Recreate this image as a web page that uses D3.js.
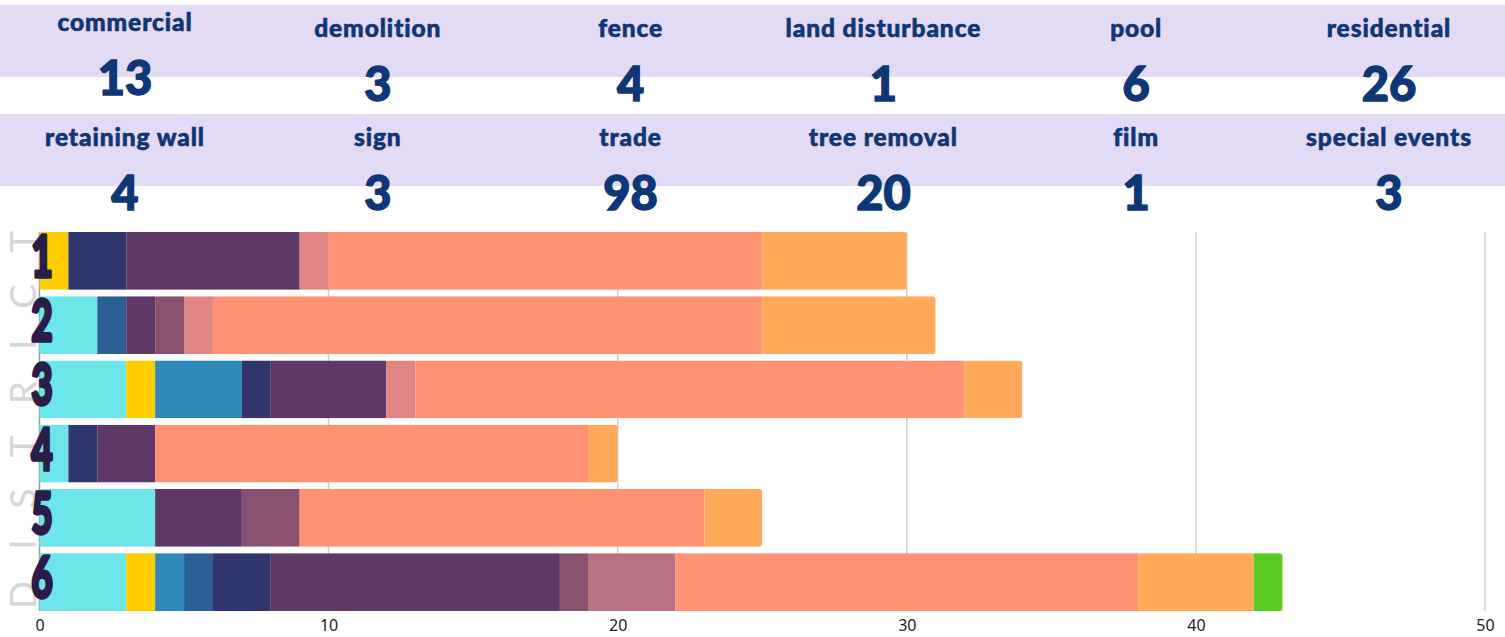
<!DOCTYPE html>
<html>
<head>
<meta charset="utf-8">
<script src="https://cdn.jsdelivr.net/npm/d3@7"></script>
<style>
  body { margin: 0; background: #fff; }
  svg { display: block; }
</style>
</head>
<body>
<div id="chart"></div>
<script>
// header tiles
const headerTop = ["commercial", "demolition", "fence", "land disturbance", "pool", "residential"];
const headerTopValues = [13, 3, 4, 1, 6, 26];
const headerBottom = ["retaining wall", "sign", "trade", "tree removal", "film", "special events"];
const headerBottomValues = [4, 3, 98, 20, 1, 3];

// stacked bars, one value per district
const districts = ["1", "2", "3", "4", "5", "6"];
const seriesNames = ["commercial", "demolition", "fence", "land disturbance", "pool", "residential",
  "retaining wall", "sign", "special events", "trade", "tree removal", "film"];
const commercial      = [0, 2, 3, 1, 4, 3];
const demolition      = [1, 0, 1, 0, 0, 1];
const fence           = [0, 0, 3, 0, 0, 1];
const landDisturbance = [0, 1, 0, 0, 0, 1];
const pool            = [2, 0, 1, 1, 0, 2];
const residential     = [6, 1, 4, 2, 3, 10];
const retainingWall   = [0, 1, 0, 0, 2, 1];
const sign            = [0, 0, 0, 0, 0, 3];
const specialEvents   = [1, 1, 1, 0, 0, 0];
const trade           = [15, 19, 19, 15, 14, 16];
const treeRemoval     = [5, 6, 2, 1, 2, 4];
const film            = [0, 0, 0, 0, 0, 1];
const xTicks = [0, 10, 20, 30, 40, 50];

const seriesValues = [commercial, demolition, fence, landDisturbance, pool, residential,
  retainingWall, sign, specialEvents, trade, treeRemoval, film];
const colors = ["#6de6e9", "#ffce00", "#2e8ab8", "#2d5f96", "#30356c", "#5e3866",
  "#895270", "#b87383", "#e08484", "#ff9273", "#ffa95b", "#5bcc22"];

const width = 1505, height = 637;

const svg = d3.select('#chart').append('svg')
  .attr('width', width)
  .attr('height', height);

// ---- header ----
const headerFont = "'Lato', 'Open Sans', sans-serif";
const textBlue = "#0f3676";
const colX = d3.scalePoint().domain(d3.range(6)).range([125, 1389]);

[{ y: 5, names: headerTop, vals: headerTopValues },
 { y: 114, names: headerBottom, vals: headerBottomValues }].forEach((row, ri) => {
  svg.append('rect')
    .attr('x', 0).attr('y', row.y)
    .attr('width', width).attr('height', 72)
    .attr('fill', '#e3daf3');

  const g = svg.append('g');
  row.names.forEach((name, i) => {
    // the first tile of the top row sits a little higher
    const lift = (ri === 0 && i === 0) ? -6 : 0;
    g.append('text')
      .attr('x', colX(i)).attr('y', row.y + 32 + lift)
      .attr('text-anchor', 'middle')
      .attr('font-family', headerFont)
      .attr('font-weight', 900)
      .attr('font-size', 24.5)
      .attr('letter-spacing', 0.9)
      .attr('fill', textBlue)
      .attr('stroke', textBlue)
      .attr('stroke-width', 0.6)
      .text(name);
    g.append('text')
      .attr('x', colX(i)).attr('y', row.y + 96 + lift)
      .attr('text-anchor', 'middle')
      .attr('font-family', headerFont)
      .attr('font-weight', 900)
      .attr('font-size', 47)
      .attr('fill', textBlue)
      .attr('stroke', textBlue)
      .attr('stroke-width', 1.4)
      .text(row.vals[i]);
  });
});

// ---- bar chart ----
const x = d3.scaleLinear().domain([0, 50]).range([39.5, 1485]);
const y = d3.scaleBand().domain(districts).range([232, 611]).paddingInner(0.1).paddingOuter(0);

// vertical DISTRICT label in the background
svg.append('text')
  .attr('transform', `translate(36, 609) rotate(-90)`)
  .attr('font-family', "'Lato', sans-serif")
  .attr('font-weight', 400)
  .attr('font-size', 37)
  .attr('fill', '#d6d4dc')
  .attr('textLength', 378)
  .attr('lengthAdjust', 'spacing')
  .text('DISTRICT');

// grid
svg.append('g')
  .selectAll('line')
  .data(xTicks)
  .join('line')
  .attr('x1', d => x(d)).attr('x2', d => x(d))
  .attr('y1', 232).attr('y2', 611)
  .attr('stroke', d => d === 0 ? '#9a9a9a' : '#d0d0d0')
  .attr('stroke-width', 1.5);

// stack
const table = districts.map((d, i) => {
  const row = { district: d };
  seriesNames.forEach((s, j) => { row[s] = seriesValues[j][i]; });
  return row;
});
const stacked = d3.stack().keys(seriesNames)(table);

const defs = svg.append('defs');
table.forEach((row, i) => {
  const total = d3.sum(seriesNames, s => row[s]);
  defs.append('clipPath').attr('id', 'clip' + i)
    .append('rect')
    .attr('x', x(0) - 5).attr('y', y(row.district))
    .attr('width', x(total) - x(0) + 5).attr('height', y.bandwidth())
    .attr('rx', 3.5);
});

const bars = svg.append('g');
stacked.forEach((layer, j) => {
  bars.append('g')
    .attr('fill', colors[j])
    .selectAll('rect')
    .data(layer.filter(d => d[1] > d[0]))
    .join('rect')
    .attr('clip-path', d => `url(#clip${districts.indexOf(d.data.district)})`)
    .attr('x', d => x(d[0]))
    .attr('y', d => y(d.data.district))
    .attr('width', d => x(d[1]) - x(d[0]))
    .attr('height', y.bandwidth());
});

// district numbers, condensed heavy
svg.append('g')
  .selectAll('text')
  .data(districts)
  .join('text')
  .attr('transform', d => `translate(42, ${y(d) + 45}) scale(0.64, 1)`)
  .attr('text-anchor', 'middle')
  .attr('font-family', "'Lato', sans-serif")
  .attr('font-weight', 900)
  .attr('font-size', 58)
  .attr('fill', '#2a1e48')
  .attr('stroke', '#2a1e48')
  .attr('stroke-width', 3.5)
  .attr('stroke-linejoin', 'round')
  .text(d => d);

// x axis labels
const axis = svg.append('g')
  .attr('transform', `translate(0, 611)`)
  .call(d3.axisBottom(x).tickValues(xTicks).tickSize(0).tickPadding(9));
axis.select('.domain').remove();
axis.selectAll('text')
  .attr('font-family', "'Noto Sans', sans-serif")
  .attr('font-size', 16)
  .attr('fill', '#222');
</script>
</body>
</html>
